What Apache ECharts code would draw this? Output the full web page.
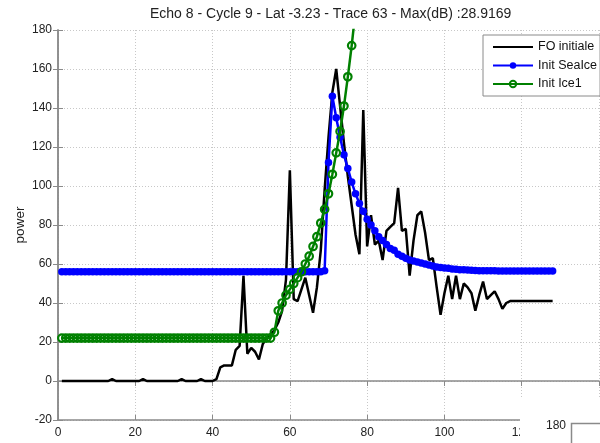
<!DOCTYPE html>
<html>
<head>
<meta charset="utf-8">
<script src="https://cdn.jsdelivr.net/npm/echarts@6/dist/echarts.min.js"></script>
<style>html,body{margin:0;padding:0;background:#fff}#c{width:600px;height:443px}</style>
</head>
<body>
<div id="c"></div>
<script>
// ---- data (range gate index starts at 1) ----
const titleText = 'Echo 8 - Cycle 9 - Lat -3.23 - Trace 63 - Max(dB) :28.9169';
const seriesNames = ['FO initiale', 'Init SeaIce', 'Init Ice1'];
const yTicks = [-20, 0, 20, 40, 60, 80, 100, 120, 140, 160, 180];
const xTicks = [0, 20, 40, 60, 80, 100, 120, 140];

const foInitiale = [
  0,0,0,0,0,0,0,0,0,0,0,0,0,1,0,0,0,0,0,0,
  0,1,0,0,0,0,0,0,0,0,0,1,0,0,0,0,1,0,0,0,
  1,7,8,8,8,16,18,54,14,17,15,11,19,22,24,26,30,36,52,108,
  42,41,47,53,44,35,48,67,98,125,148,160,141,122,105,90,75,65,139,69,
  85,70,72,62,77,79,81,99,77,78,54,72,85,87,76,62,63,48,34,45,
  54,42,54,42,50,48,45,36,44,51,42,44,46,42,37,40,41,41,41,41,
  41,41,41,41,41,41,41,41
];
const initSeaIce = [
  56,56,56,56,56,56,56,56,56,56,56,56,56,56,56,56,56,56,56,56,
  56,56,56,56,56,56,56,56,56,56,56,56,56,56,56,56,56,56,56,56,
  56,56,56,56,56,56,56,56,56,56,56,56,56,56,56,56,56,56,56,56,
  56,56,56,56,56,56,56,56,56.5,112,146,135,125,116,109,102,96,91,87,83,
  80,77,74,72,70,68,67,65,64,63,62,61.5,61,60.5,60,59.5,59,58.5,58.2,58,
  57.8,57.5,57.3,57.1,57,56.9,56.8,56.7,56.6,56.6,56.5,56.5,56.5,56.4,56.4,56.4,56.4,56.4,56.4,56.4,
  56.4,56.4,56.4,56.4,56.4,56.4,56.4,56.4
];
const initIce1 = [
  22,22,22,22,22,22,22,22,22,22,22,22,22,22,22,22,22,22,22,22,
  22,22,22,22,22,22,22,22,22,22,22,22,22,22,22,22,22,22,22,22,
  22,22,22,22,22,22,22,22,22,22,22,22,22,22,22,25,36,40,44,47,
  50,53,56,60,64,69,74,81,88,96,106,117,128,141,156,172,190,210
];

const toPairs = arr => arr.map((v, i) => [i + 1, v]);

const chart = echarts.init(document.getElementById('c'), null, {renderer: 'canvas'});
const FONT = 'Liberation Sans, Arial, Helvetica, sans-serif';
const axisGray = '#8a8a8a';
const gridStyle = {show: true, lineStyle: {color: '#c8c8c8', type: [1, 2], width: 1}};

chart.setOption({
  animation: false,
  backgroundColor: '#fff',
  title: {
    text: titleText, left: 150, top: 7, padding: 0,
    textStyle: {fontSize: 14, fontWeight: 'normal', color: '#222', fontFamily: FONT}
  },
  grid: {left: 58, top: 30, width: 541, height: 390, containLabel: false, outerBoundsMode: 'none'},
  legend: {
    orient: 'vertical', left: 483, top: 35,
    data: [
      {name: seriesNames[0], itemStyle: {opacity: 0}},
      {name: seriesNames[1]},
      {name: seriesNames[2]}
    ],
    backgroundColor: '#fff', borderColor: '#8a8a8a', borderWidth: 1,
    padding: [5, 3, 5, 9], itemGap: 4.5, itemWidth: 40, itemHeight: 8, itemTextGap: 5,
    textStyle: {fontSize: 12.5, color: '#111', fontFamily: FONT, lineHeight: 14}
  },
  xAxis: [{
    type: 'value', min: 0, max: 140, interval: 20, position: 'bottom',
    axisLine: {show: true, onZero: false, lineStyle: {color: axisGray, width: 1.5}},
    axisTick: {show: true, inside: true, length: 5, lineStyle: {color: axisGray}},
    axisLabel: {show: true, margin: 7, fontSize: 12, color: '#222', fontFamily: FONT},
    splitLine: gridStyle
  }, {
    type: 'value', min: 0, max: 140, interval: 20, position: 'top',
    axisLine: {show: true, lineStyle: {color: axisGray, width: 1.5}},
    axisTick: {show: true, inside: true, length: 5, lineStyle: {color: axisGray}},
    axisLabel: {show: false}, splitLine: {show: false}
  }],
  yAxis: [{
    type: 'value', min: -20, max: 180, interval: 20, position: 'left',
    name: 'power', nameLocation: 'middle', nameGap: 31, nameRotate: 90, nameMoveOverlap: false,
    nameTextStyle: {fontSize: 13.5, color: '#222', fontFamily: FONT},
    axisLine: {show: true, onZero: false, lineStyle: {color: axisGray, width: 1.5}},
    axisTick: {show: true, inside: true, length: 5, lineStyle: {color: axisGray}},
    axisLabel: {show: true, margin: 6, fontSize: 12, color: '#222', fontFamily: FONT},
    splitLine: gridStyle
  }, {
    type: 'value', min: -20, max: 180, interval: 20, position: 'right',
    axisLine: {show: true, lineStyle: {color: axisGray, width: 1.5}},
    axisTick: {show: true, inside: true, length: 5, lineStyle: {color: axisGray}},
    axisLabel: {show: false}, splitLine: {show: false}
  }],
  series: [{
    name: seriesNames[0], type: 'line', data: toPairs(foInitiale),
    symbol: 'none', color: '#000',
    lineStyle: {color: '#000', width: 2.5}, z: 2
  }, {
    name: seriesNames[1], type: 'line', data: toPairs(initSeaIce),
    symbol: 'circle', symbolSize: 7.5, showAllSymbol: true, color: '#0000ff',
    itemStyle: {color: '#0000ff'},
    lineStyle: {color: '#0000ff', width: 2.5}, z: 3
  }, {
    name: seriesNames[2], type: 'line', data: toPairs(initIce1),
    symbol: 'circle', symbolSize: 7.5, showAllSymbol: true, color: '#008000',
    itemStyle: {color: 'rgba(255,255,255,0)', borderColor: '#008000', borderWidth: 2.2},
    lineStyle: {color: '#008000', width: 2.5}, z: 4
  }],
  graphic: [
    {type: 'rect', z: 100, shape: {x: 520, y: 397, width: 80, height: 46}, style: {fill: '#fff'}},
    {type: 'text', z: 101, x: 566, y: 426, style: {text: '180', align: 'right', verticalAlign: 'middle', fontSize: 12, fill: '#222', fontFamily: FONT}},
    {type: 'polyline', z: 101, shape: {points: [[571.5, 443], [571.5, 423.5], [600, 423.5]]}, style: {stroke: axisGray, lineWidth: 1.5, fill: null}}
  ]
});
</script>
</body>
</html>
